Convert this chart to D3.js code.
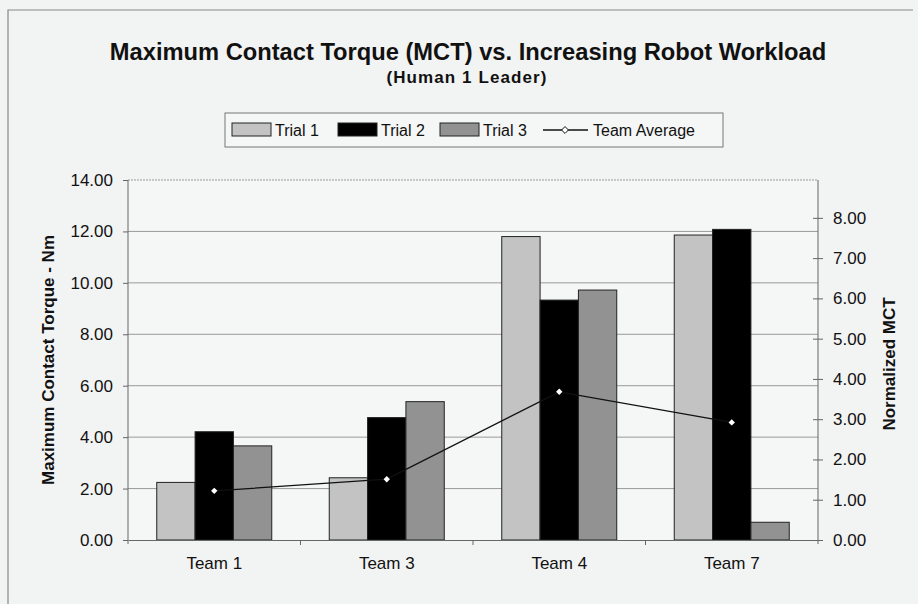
<html>
  <head>
    <script src="https://cdnjs.cloudflare.com/ajax/libs/d3/7.8.5/d3.min.js"></script>
    <style>
      body { margin: 0; background: #f2f3f3; }
      svg { display: block; font-family: Arial, "Liberation Sans", sans-serif; }
      .axis text { font-size: 17px; fill: #111; }
      .axis path, .axis line { stroke: #666; }
      .grid line { stroke: #9a9a9a; }
    </style>
  </head>
  <body>
    <svg width="918" height="604"></svg>
    <script>
      const teams = ["Team 1", "Team 3", "Team 4", "Team 7"];
      const trials = ["Trial 1", "Trial 2", "Trial 3"];
      const trial1 = [2.24, 2.42, 11.80, 11.86];
      const trial2 = [4.21, 4.76, 9.33, 12.08];
      const trial3 = [3.66, 5.38, 9.72, 0.69];
      const teamAverage = [1.22, 1.51, 3.68, 2.92];
      const leftTicks = [0, 2, 4, 6, 8, 10, 12, 14];
      const rightTicks = [0, 1, 2, 3, 4, 5, 6, 7, 8];

      const series = [trial1, trial2, trial3];
      const fills = ["#c3c3c3", "#000000", "#929292"];

      const svg = d3.select("svg");
      const margin = { left: 128, right: 818, top: 180, bottom: 540 };

      // chart frame (cropped scan: only top and left edges visible)
      svg.append("rect").attr("x", 0).attr("y", 0).attr("width", 918).attr("height", 604).attr("fill", "#f2f3f3");
      svg.append("path").attr("d", "M8,604 V10 H913").attr("fill", "none").attr("stroke", "#888").attr("stroke-width", 1.2);

      // plot background
      svg.append("rect")
        .attr("x", margin.left).attr("y", margin.top)
        .attr("width", margin.right - margin.left).attr("height", margin.bottom - margin.top)
        .attr("fill", "#f5f6f6");

      const x = d3.scaleBand().domain(teams).range([margin.left, margin.right]);
      const xs = d3.scaleBand().domain(trials).range([0, x.bandwidth()]).paddingOuter(0.75);
      const y = d3.scaleLinear().domain([0, 14]).range([margin.bottom, margin.top]);
      const y2 = d3.scaleLinear().domain([0, 8.94]).range([margin.bottom, margin.top]);

      // gridlines
      svg.append("g").attr("class", "grid")
        .selectAll("line").data(leftTicks.slice(1)).join("line")
        .attr("x1", margin.left).attr("x2", margin.right)
        .attr("y1", d => y(d)).attr("y2", d => y(d))
        .attr("stroke-dasharray", d => d === 14 ? "2,1" : null);

      // bars
      teams.forEach((team, i) => {
        series.forEach((s, j) => {
          svg.append("rect")
            .attr("x", x(team) + xs(trials[j]))
            .attr("y", y(s[i]))
            .attr("width", xs.bandwidth())
            .attr("height", y(0) - y(s[i]))
            .attr("fill", fills[j])
            .attr("stroke", "#222")
            .attr("stroke-width", 1);
        });
      });

      // axes
      const leftAxis = svg.append("g").attr("class", "axis")
        .attr("transform", `translate(${margin.left},0)`)
        .call(d3.axisLeft(y).tickValues(leftTicks).tickFormat(d3.format(".2f")).tickSize(5).tickPadding(10));
      leftAxis.select(".domain").remove();
      svg.append("line").attr("x1", margin.left).attr("x2", margin.left)
        .attr("y1", margin.top).attr("y2", margin.bottom + 4).attr("stroke", "#666");

      const rightAxis = svg.append("g").attr("class", "axis")
        .attr("transform", `translate(${margin.right},0)`)
        .call(d3.axisRight(y2).tickValues(rightTicks).tickFormat(d3.format(".2f")).tickSize(5).tickPadding(10));
      rightAxis.select(".domain").remove();
      rightAxis.selectAll(".tick line").attr("x1", -5);
      svg.append("line").attr("x1", margin.right).attr("x2", margin.right)
        .attr("y1", margin.top).attr("y2", margin.bottom + 4).attr("stroke", "#666");

      const bottomAxis = svg.append("g").attr("class", "axis")
        .attr("transform", `translate(0,${margin.bottom})`)
        .call(d3.axisBottom(x).tickSize(0).tickPadding(17));
      bottomAxis.select(".domain").attr("stroke", "#666");
      bottomAxis.selectAll(".tick text").attr("font-size", 17);
      svg.append("g").selectAll("line").data(teams.slice(1)).join("line")
        .attr("x1", d => x(d)).attr("x2", d => x(d))
        .attr("y1", margin.bottom).attr("y2", margin.bottom + 5)
        .attr("stroke", "#666");

      // team average line
      const line = d3.line()
        .x((d, i) => x(teams[i]) + x.bandwidth() / 2)
        .y(d => y2(d));
      svg.append("path").datum(teamAverage)
        .attr("d", line).attr("fill", "none").attr("stroke", "#111").attr("stroke-width", 1.3);
      svg.append("g").selectAll("path").data(teamAverage).join("path")
        .attr("transform", (d, i) => `translate(${x(teams[i]) + x.bandwidth() / 2},${y2(d)})`)
        .attr("d", d3.symbol(d3.symbolDiamond2, 26))
        .attr("fill", "#fff");

      // titles
      svg.append("text").attr("x", 468).attr("y", 60).attr("text-anchor", "middle")
        .attr("font-size", 23.7).attr("font-weight", "bold").attr("fill", "#111")
        .text("Maximum Contact Torque (MCT) vs. Increasing Robot Workload");
      svg.append("text").attr("x", 467).attr("y", 83).attr("text-anchor", "middle")
        .attr("font-size", 17).attr("font-weight", "bold").attr("letter-spacing", 1.1).attr("fill", "#111")
        .text("(Human 1 Leader)");

      svg.append("text")
        .attr("transform", `translate(54,${(margin.top + margin.bottom) / 2}) rotate(-90)`)
        .attr("text-anchor", "middle").attr("font-size", 17).attr("font-weight", "bold").attr("fill", "#111")
        .text("Maximum Contact Torque - Nm");
      svg.append("text")
        .attr("transform", `translate(895,364) rotate(-90)`)
        .attr("text-anchor", "middle").attr("font-size", 17).attr("font-weight", "bold").attr("fill", "#111")
        .text("Normalized MCT");

      // legend
      const legend = svg.append("g");
      legend.append("rect").attr("x", 225).attr("y", 113).attr("width", 498).attr("height", 34)
        .attr("fill", "#f5f6f6").attr("stroke", "#777");
      const swatchX = [232, 338, 440];
      trials.forEach((t, j) => {
        legend.append("rect").attr("x", swatchX[j]).attr("y", 123).attr("width", 39).attr("height", 13)
          .attr("fill", fills[j]).attr("stroke", "#222");
        legend.append("text").attr("x", swatchX[j] + 43).attr("y", 136)
          .attr("font-size", 16).attr("fill", "#111").text(t);
      });
      legend.append("line").attr("x1", 543).attr("x2", 588).attr("y1", 130).attr("y2", 130)
        .attr("stroke", "#111").attr("stroke-width", 1.3);
      legend.append("path").attr("transform", "translate(565,130)")
        .attr("d", d3.symbol(d3.symbolDiamond2, 30)).attr("fill", "#fff").attr("stroke", "#111");
      legend.append("text").attr("x", 593).attr("y", 136)
        .attr("font-size", 16).attr("fill", "#111").text("Team Average");
    </script>
  </body>
</html>
